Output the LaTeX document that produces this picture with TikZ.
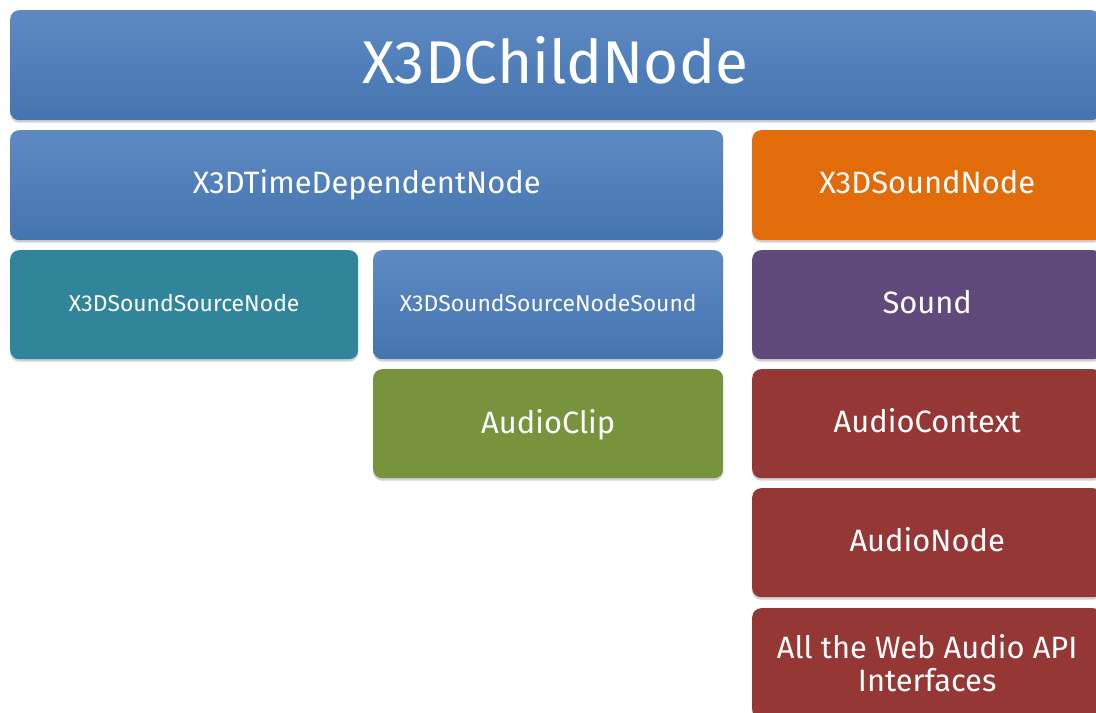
\documentclass[tikz,border=0pt]{standalone}
\usepackage{fontspec}
\setmainfont{Fira Sans}
\usetikzlibrary{shadows}
\definecolor{bluetop}{RGB}{94,138,195}
\definecolor{bluebot}{RGB}{68,116,175}
\definecolor{orangebox}{RGB}{227,108,10}
\definecolor{tealbox}{RGB}{49,133,155}
\definecolor{purplebox}{RGB}{96,74,123}
\definecolor{greenbox}{RGB}{119,147,60}
\definecolor{redbox}{RGB}{149,55,53}
\newcommand{\liftlbl}[2][3bp]{\raisebox{#1}[\height][\depth]{#2}}
\tikzset{
  box/.style={rounded corners=9bp, anchor=north west, text=white, inner sep=0pt, align=center,
    drop shadow={opacity=0.35, shadow xshift=0bp, shadow yshift=-2.5bp}},
  bluebox/.style={box, top color=bluetop, bottom color=bluebot},
  flatbox/.style={box, fill=#1},
  bigtxt/.style={font=\fontsize{31}{34}\selectfont},
  midtxt/.style={font=\fontsize{31}{34}\selectfont},
  smalltxt/.style={font=\fontsize{23}{26}\selectfont}
}
\begin{document}
\begin{tikzpicture}[x=1bp,y=-1bp]
\useasboundingbox (0,0) rectangle (1096,713);
\clip (0,0) rectangle (1096,713);
\fill[white] (0,0) rectangle (1096,713);
\node[bluebox, minimum width=1090bp, minimum height=110bp, font=\fontsize{60.5}{64}\selectfont] (child) at (10,10) {\liftlbl[5bp]{X3DChildNode}};
\node[bluebox, minimum width=713bp, minimum height=110bp, bigtxt] (time) at (10,130) {\liftlbl[0bp]{X3DTimeDependentNode}};
\node[flatbox=orangebox, minimum width=350bp, minimum height=110bp, bigtxt] (snd) at (752,130) {\liftlbl{X3DSoundNode}};
\node[flatbox=tealbox, minimum width=348bp, minimum height=109bp, smalltxt] (src) at (10,250) {\liftlbl[1.5bp]{X3DSoundSourceNode}};
\node[bluebox, minimum width=350bp, minimum height=109bp, smalltxt] (srcsnd) at (373,250) {\liftlbl[1.5bp]{X3DSoundSourceNodeSound}};
\node[flatbox=purplebox, minimum width=350bp, minimum height=109bp, midtxt] (sound) at (752,250) {\liftlbl{Sound}};
\node[flatbox=greenbox, minimum width=350bp, minimum height=109bp, midtxt] (clip) at (373,369) {\liftlbl[-1bp]{AudioClip}};
\node[flatbox=redbox, minimum width=350bp, minimum height=109bp, midtxt] (ctx) at (752,369) {\liftlbl{AudioContext}};
\node[flatbox=redbox, minimum width=350bp, minimum height=109bp, midtxt] (anode) at (752,488) {\liftlbl{AudioNode}};
\node[flatbox=redbox, minimum width=350bp, minimum height=110bp, midtxt] (api) at (752,608) {All the Web Audio API\\[-1bp]Interfaces};
\end{tikzpicture}
\end{document}
